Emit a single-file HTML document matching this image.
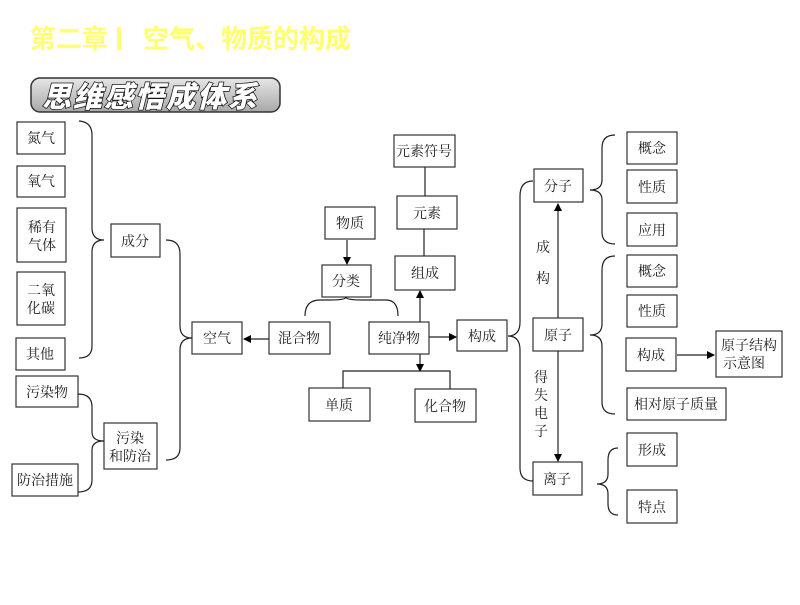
<!DOCTYPE html>
<html><head><meta charset="utf-8"><style>
body{margin:0;background:#fff;}
svg text{font-family:"Liberation Serif","Noto Serif CJK SC","Noto Sans CJK SC",serif;font-size:14px;fill:#222;}
</style></head><body>
<svg width="800" height="600" viewBox="0 0 800 600" xmlns="http://www.w3.org/2000/svg">
<defs>
<linearGradient id="g" x1="0" y1="0" x2="0" y2="1"><stop offset="0" stop-color="#e6e6e6"/><stop offset="1" stop-color="#a8a8a8"/></linearGradient>
<marker id="a" markerWidth="8" markerHeight="8" refX="7" refY="4" orient="auto" markerUnits="userSpaceOnUse"><path d="M0,0 L8,4 L0,8z" fill="#000"/></marker>
</defs>
<text x="30" y="48" style="font-family:'Liberation Sans','Noto Sans CJK SC',sans-serif;font-size:26px;font-weight:bold;fill:#ffff70">第二章</text>
<rect x="117" y="27" width="4" height="23" fill="#ffff70"/>
<text x="143" y="48" style="font-family:'Liberation Sans','Noto Sans CJK SC',sans-serif;font-size:26px;font-weight:bold;fill:#ffff70">空气、物质的构成</text>
<rect x="31" y="78" width="249" height="34" rx="9" fill="url(#g)" stroke="#333" stroke-width="1.5"/>
<text x="42" y="107" style="font-family:'Noto Sans CJK SC',sans-serif;font-size:29px;font-weight:900;font-style:italic;fill:#fff;stroke:#111;stroke-width:1.5;paint-order:stroke;letter-spacing:2px">思维感悟成体系</text>
<g fill="#fff" stroke="#333" stroke-width="1.2">
<rect x="17" y="122" width="48" height="32"/><rect x="17" y="166" width="48" height="31"/>
<rect x="17" y="208" width="49" height="54"/><rect x="17" y="272" width="48" height="53"/>
<rect x="16" y="338" width="49" height="32"/><rect x="16" y="376" width="62" height="31"/>
<rect x="12" y="464" width="66" height="32"/>
<rect x="111" y="224" width="49" height="33"/><rect x="104" y="423" width="53" height="46"/>
<rect x="192" y="322" width="50" height="32"/>
<rect x="269" y="322" width="61" height="32"/><rect x="369" y="322" width="60" height="32"/>
<rect x="457" y="320" width="50" height="31"/><rect x="325" y="207" width="50" height="32"/>
<rect x="322" y="265" width="49" height="32"/><rect x="394" y="135" width="61" height="32"/>
<rect x="397" y="196" width="60" height="33"/><rect x="395" y="256" width="60" height="34"/>
<rect x="309" y="388" width="61" height="33"/><rect x="415" y="389" width="61" height="33"/>
<rect x="534" y="169" width="49" height="33"/><rect x="533" y="318" width="50" height="33"/>
<rect x="533" y="462" width="49" height="33"/>
<rect x="627" y="132" width="50" height="32"/><rect x="627" y="170" width="50" height="33"/>
<rect x="627" y="213" width="50" height="33"/><rect x="627" y="255" width="50" height="32"/>
<rect x="627" y="295" width="50" height="32"/><rect x="626" y="338" width="50" height="33"/>
<rect x="627" y="388" width="99" height="32"/><rect x="716" y="331" width="66" height="46"/>
<rect x="627" y="433" width="50" height="33"/><rect x="627" y="490" width="50" height="33"/>
</g>
<g fill="none" stroke="#222" stroke-width="1.2">
<path d="M79,121 Q92,122 92,135 L92,228 Q92,240 104,240 Q92,240 92,252 L92,346 Q92,358 79,358"/>
<path d="M166,240 Q180,240 180,254 L180,326 Q180,338 192,338 Q180,338 180,350 L180,448 Q180,460 166,460"/>
<path d="M78,394 Q92,394 92,407 L92,432 Q92,441 104,441 Q92,441 92,450 L92,480 Q92,492 78,492"/>
<path d="M305,316 Q305,300 320,300 L330,300 Q346,300 346,297 Q346,300 362,300 L386,300 Q398,300 398,316"/>
<path d="M533,181 Q520,181 520,196 L520,322 Q520,336 508,336 Q520,336 520,350 L520,468 Q520,481 533,481"/>
<path d="M615,135 Q602,135 602,148 L602,180 Q602,190 590,190 Q602,190 602,200 L602,232 Q602,244 615,244"/>
<path d="M615,256 Q602,256 602,270 L602,324 Q602,335 590,335 Q602,335 602,346 L602,402 Q602,414 615,414"/>
<path d="M618,448 Q608,448 608,460 L608,474 Q608,484 597,484 Q608,484 608,494 L608,504 Q608,515 618,515"/>
<path d="M269,339 L244,339" marker-end="url(#a)"/>
<path d="M347,240 L347,264" marker-end="url(#a)"/>
<path d="M425,167 L425,196 M424,229 L424,256"/>
<path d="M420,322 L420,291" marker-end="url(#a)"/>
<path d="M429,337 L456,337" marker-end="url(#a)"/>
<path d="M420,354 L420,371" marker-end="url(#a)"/>
<path d="M343,388 L343,371 L450,371 L450,389"/>
<path d="M558,318 L558,204" marker-end="url(#a)"/>
<path d="M558,351 L558,461" marker-end="url(#a)"/>
<path d="M677,355 L714,355" marker-end="url(#a)"/>
</g>
<g text-anchor="middle">
<text x="41" y="143">氮气</text><text x="41" y="186">氧气</text>
<text x="42" y="232">稀有</text><text x="42" y="250">气体</text>
<text x="41" y="295">二氧</text><text x="41" y="313">化碳</text>
<text x="40" y="359">其他</text><text x="47" y="397">污染物</text><text x="45" y="485">防治措施</text>
<text x="135" y="246">成分</text><text x="130" y="443">污染</text><text x="130" y="461">和防治</text>
<text x="217" y="343">空气</text><text x="299" y="343">混合物</text><text x="399" y="343">纯净物</text>
<text x="482" y="341">构成</text><text x="350" y="228">物质</text><text x="346" y="286">分类</text>
<text x="424" y="156">元素符号</text><text x="427" y="218">元素</text><text x="425" y="278">组成</text>
<text x="339" y="410">单质</text><text x="445" y="411">化合物</text>
<text x="558" y="191">分子</text><text x="558" y="340">原子</text><text x="557" y="484">离子</text>
<text x="652" y="153">概念</text><text x="652" y="192">性质</text><text x="652" y="235">应用</text>
<text x="652" y="276">概念</text><text x="652" y="316">性质</text><text x="651" y="360">构成</text>
<text x="676" y="409">相对原子质量</text><text x="749" y="350">原子结构</text><text x="744" y="368">示意图</text>
<text x="652" y="455">形成</text><text x="652" y="512">特点</text>
<text x="543" y="252">成</text><text x="543" y="283">构</text>
<text x="541" y="382">得</text><text x="541" y="400">失</text><text x="541" y="418">电</text><text x="541" y="436">子</text>
</g>
</svg>
</body></html>
